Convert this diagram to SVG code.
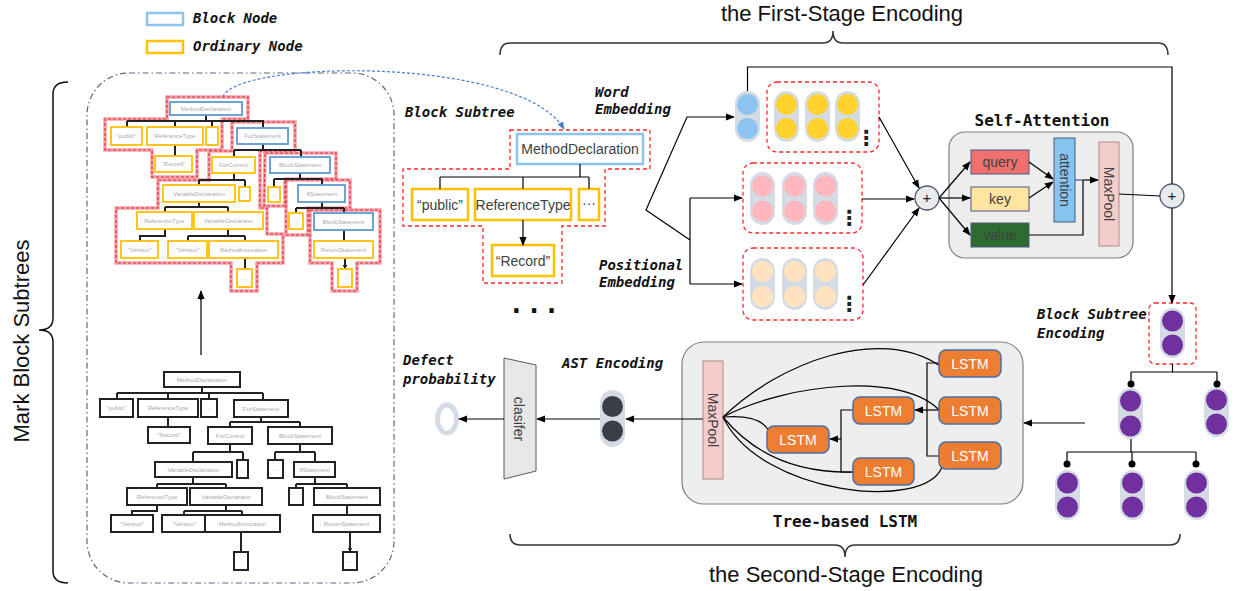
<svg xmlns="http://www.w3.org/2000/svg" width="1237" height="591" viewBox="0 0 1237 591">
<defs>
<style>
.lbl{font-family:"DejaVu Sans Mono",monospace;font-weight:bold;font-style:italic;font-size:14px;fill:#111}
.ttl{font-family:"DejaVu Sans Mono",monospace;font-weight:bold;font-size:16px;fill:#111}
.big{font-family:"Liberation Sans",Arial,sans-serif;font-size:22px;fill:#111}
.sans{font-family:"Liberation Sans",Arial,sans-serif}
.tt{font-family:"Liberation Sans",Arial,sans-serif;font-size:6px;fill:#aaa;text-anchor:middle}
.bS{fill:#fff;stroke:#5f9ad6;stroke-width:1.8}
.oS{fill:#fff;stroke:#ffc000;stroke-width:1.8}
.kS{fill:#fff;stroke:#222;stroke-width:2}
.red2{fill:none;stroke:#f5a3ab;stroke-width:3.5}
.red1{fill:none;stroke:#e3303f;stroke-width:1.2;stroke-dasharray:3 2}
.edge{fill:none;stroke:#222;stroke-width:2}
.ln{fill:none;stroke:#000;stroke-width:1.2}
.pill{fill:#d5dbe4}
.dbox{fill:none;stroke:#ff2a2a;stroke-width:1.3;stroke-dasharray:4 3}
.plus{fill:#ebebeb;stroke:#4e5d78;stroke-width:1.3}
.lstm{fill:#ed7d31;stroke:#4a6fa5;stroke-width:1.5}
.lt{font-family:"Liberation Sans",Arial,sans-serif;font-size:14px;fill:#fff;text-anchor:middle}
.nt{font-family:"Liberation Sans",Arial,sans-serif;font-size:14px;fill:#404040;text-anchor:middle}
.vd{font-family:"DejaVu Sans",sans-serif;font-weight:bold;font-size:21px;fill:#222;text-anchor:middle}
</style>
<marker id="a" viewBox="0 0 10 10" refX="9" refY="5" markerWidth="9" markerHeight="9" markerUnits="userSpaceOnUse" orient="auto"><path d="M0,1 L10,5 L0,9 z" fill="#000"/></marker>
<marker id="at" viewBox="0 0 10 10" refX="9" refY="5" markerWidth="5" markerHeight="5" markerUnits="userSpaceOnUse" orient="auto"><path d="M0,0 L10,5 L0,10 z" fill="#222"/></marker>
<marker id="ab" viewBox="0 0 10 10" refX="9" refY="5" markerWidth="8" markerHeight="8" markerUnits="userSpaceOnUse" orient="auto"><path d="M0,1 L10,5 L0,9 z" fill="#4a7fd0"/></marker>
</defs>
<rect width="1237" height="591" fill="#fff"/>

<g id="legend">
<rect x="147" y="13" width="36" height="12" fill="#fff" stroke="#8cc4f0" stroke-width="2.5"/>
<text class="lbl" x="193" y="23">Block Node</text>
<rect x="147" y="41" width="36" height="12" fill="#fff" stroke="#ffc000" stroke-width="2.5"/>
<text class="lbl" x="193" y="51">Ordinary Node</text>
</g>

<g id="mark-block-subtrees">
<path d="M68,82 Q53,82 53,94 L53,318 Q53,330 39,330 Q53,330 53,342 L53,571 Q53,583 68,583" fill="none" stroke="#111" stroke-width="1.5"/>
<text class="big" transform="translate(29,341) rotate(-90)" text-anchor="middle">Mark Block Subtrees</text>
</g>

<g id="left-panel">
<rect x="87" y="73" width="307" height="510" rx="42" fill="none" stroke="#5a6a85" stroke-width="1.2" stroke-dasharray="6 3 1.5 3"/>
</g>

<g id="marked-tree">
<g id="marks">
<polygon class="red2" points="167,97 248,97 248,119 222,119 222,150 197,150 197,177 152,177 152,150 105,150 105,119 167,119"/>
<polygon class="red2" points="232,122 295,122 295,151 260,151 260,208 267,208 267,234 283,234 283,263 257,263 257,291 231,291 231,263 116,263 116,208 158,208 158,180 209,180 209,151 232,151"/>
<polygon class="red2" points="265,153 336,153 336,179 285,179 285,206 264,206"/>
<polygon class="red2" points="286,180 350,180 350,208 308,208 308,235 286,235"/>
<polygon class="red2" points="310,210 380,210 380,263 357,263 357,291 332,291 332,263 310,263"/>
<polygon class="red1" points="167,97 248,97 248,119 222,119 222,150 197,150 197,177 152,177 152,150 105,150 105,119 167,119"/>
<polygon class="red1" points="232,122 295,122 295,151 260,151 260,208 267,208 267,234 283,234 283,263 257,263 257,291 231,291 231,263 116,263 116,208 158,208 158,180 209,180 209,151 232,151"/>
<polygon class="red1" points="265,153 336,153 336,179 285,179 285,206 264,206"/>
<polygon class="red1" points="286,180 350,180 350,208 308,208 308,235 286,235"/>
<polygon class="red1" points="310,210 380,210 380,263 357,263 357,291 332,291 332,263 310,263"/>
</g>
<g id="top-tree-edges">
<path class="edge" d="M206,115V121M127,121H264M175,145V150M263,144V150M234,150H301M234,173V180M199,180H245M300,173V179M274,179H322M199,202V207M165,207H228M322,202V208M296,208H344M228,229V236M188,236H245"/>
<path class="edge" marker-end="url(#at)" d="M127,121V127M175,121V127M212,121V127M263,121V128M175,150V156M234,150V157M301,150V157M199,180V185M245,180V187M274,179V187M322,179V185M165,207V212M228,207V212M296,208V213M344,208V213M165,229V236H140V241M188,236V241M245,236V241M344,230V241M245,258V269M345,258V269"/>
</g>
<g id="t-md"><rect class="bS" x="170" y="102" width="72" height="13"/><text class="tt" x="206" y="110.5">MethodDeclaration</text></g>
<g id="t-pub"><rect class="oS" x="111" y="127" width="31" height="18"/><text class="tt" x="126.5" y="138">"public"</text></g>
<g id="t-rt"><rect class="oS" x="147" y="127" width="56" height="18"/><text class="tt" x="175" y="138">ReferenceType</text></g>
<g id="t-d1"><rect class="oS" x="206" y="127" width="12" height="18"/><text class="tt" x="212" y="138">...</text></g>
<g id="t-fs"><rect class="bS" x="237" y="128" width="51" height="16"/><text class="tt" x="262.5" y="138">ForStatement</text></g>
<g id="t-rec"><rect class="oS" x="155" y="156" width="37" height="16"/><text class="tt" x="173.5" y="166">"Record"</text></g>
<g id="t-fc"><rect class="oS" x="212" y="157" width="43" height="16"/><text class="tt" x="233.5" y="167">ForControl</text></g>
<g id="t-bs1"><rect class="bS" x="270" y="157" width="60" height="16"/><text class="tt" x="300" y="167">BlockStatement</text></g>
<g id="t-vd"><rect class="oS" x="163" y="185" width="72" height="17"/><text class="tt" x="199" y="195.5">VariableDeclaration</text></g>
<g id="t-d2"><rect class="oS" x="239" y="187" width="11" height="14"/><text class="tt" x="244.5" y="196">...</text></g>
<g id="t-d3"><rect class="oS" x="268" y="187" width="12" height="15"/><text class="tt" x="274" y="196.5">...</text></g>
<g id="t-if"><rect class="bS" x="298" y="185" width="47" height="17"/><text class="tt" x="321.5" y="195.5">IfStatement</text></g>
<g id="t-rt2"><rect class="oS" x="137" y="212" width="55" height="17"/><text class="tt" x="164.5" y="222.5">ReferenceType</text></g>
<g id="t-vdr"><rect class="oS" x="194" y="212" width="69" height="17"/><text class="tt" x="228.5" y="222.5">VariableDeclarator</text></g>
<g id="t-d4"><rect class="oS" x="289" y="213" width="14" height="16"/><text class="tt" x="296" y="223">...</text></g>
<g id="t-bs2"><rect class="bS" x="314" y="213" width="59" height="17"/><text class="tt" x="343.5" y="223.5">BlockStatement</text></g>
<g id="t-v1"><rect class="oS" x="121" y="241" width="37" height="17"/><text class="tt" x="139.5" y="251.5">"Version"</text></g>
<g id="t-v2"><rect class="oS" x="168" y="241" width="39" height="17"/><text class="tt" x="187.5" y="251.5">"Version"</text></g>
<g id="t-mi"><rect class="oS" x="209" y="241" width="69" height="17"/><text class="tt" x="243.5" y="251.5">MethodInvocation</text></g>
<g id="t-rs"><rect class="oS" x="314" y="241" width="59" height="17"/><text class="tt" x="343.5" y="251.5">ReturnStatement</text></g>
<g id="t-d5"><rect class="oS" x="237" y="269" width="15" height="18"/><text class="tt" x="244.5" y="280">...</text></g>
<g id="t-d6"><rect class="oS" x="338" y="269" width="14" height="18"/><text class="tt" x="345" y="280">...</text></g>
</g>

<g id="plain-tree">
<g id="plain-tree-edges">
<path class="edge" d="M202,387V393M117,393H263M261,417V422M230,422H300M230,444V452M193,452H243M300,444V452M275,452H315M193,477V484M157,484H226M315,477V484M296,484H347M226,505V511M184,511H242"/>
<path class="edge" marker-end="url(#at)" d="M117,393V399M168,393V399M209,393V399M263,393V400M168,417V427M230,422V427M300,422V427M193,452V462M243,452V460M275,452V460M315,452V462M157,484V488M226,484V488M296,484V488M347,484V488M157,505V511H132V515M184,511V515M242,511V515M347,505V515M241,532V552M350,532V552"/>
</g>
<g id="b-md"><rect class="kS" x="164" y="372" width="76" height="15"/><text class="tt" x="202" y="381.5">MethodDeclaration</text></g>
<g id="b-pub"><rect class="kS" x="100" y="399" width="33" height="18"/><text class="tt" x="116.5" y="410">"public"</text></g>
<g id="b-rt"><rect class="kS" x="138" y="399" width="60" height="18"/><text class="tt" x="168" y="410">ReferenceType</text></g>
<g id="b-d1"><rect class="kS" x="201" y="399" width="16" height="18"/><text class="tt" x="209" y="410">...</text></g>
<g id="b-fs"><rect class="kS" x="234" y="400" width="54" height="17"/><text class="tt" x="261" y="410.5">ForStatement</text></g>
<g id="b-rec"><rect class="kS" x="148" y="427" width="42" height="16"/><text class="tt" x="169" y="437">"Record"</text></g>
<g id="b-fc"><rect class="kS" x="208" y="427" width="44" height="17"/><text class="tt" x="230" y="437.5">ForControl</text></g>
<g id="b-bs"><rect class="kS" x="268" y="427" width="64" height="17"/><text class="tt" x="300" y="437.5">BlockStatement</text></g>
<g id="b-vd"><rect class="kS" x="155" y="462" width="77" height="15"/><text class="tt" x="193.5" y="471.5">VariableDeclaration</text></g>
<g id="b-d2"><rect class="kS" x="237" y="460" width="11" height="18"/><text class="tt" x="242.5" y="471">...</text></g>
<g id="b-d3"><rect class="kS" x="268" y="460" width="15" height="18"/><text class="tt" x="275.5" y="471">...</text></g>
<g id="b-if"><rect class="kS" x="294" y="462" width="41" height="15"/><text class="tt" x="314.5" y="471.5">IfStatement</text></g>
<g id="b-rt2"><rect class="kS" x="127" y="488" width="60" height="17"/><text class="tt" x="157" y="498.5">ReferenceType</text></g>
<g id="b-vdr"><rect class="kS" x="190" y="488" width="72" height="17"/><text class="tt" x="226" y="498.5">VariableDeclarator</text></g>
<g id="b-d4"><rect class="kS" x="289" y="488" width="14" height="17"/><text class="tt" x="296" y="498.5">...</text></g>
<g id="b-bs2"><rect class="kS" x="314" y="488" width="66" height="17"/><text class="tt" x="347" y="498.5">BlockStatement</text></g>
<g id="b-v1"><rect class="kS" x="111" y="515" width="42" height="17"/><text class="tt" x="132" y="525.5">"Version"</text></g>
<g id="b-v2"><rect class="kS" x="162" y="515" width="45" height="17"/><text class="tt" x="184.5" y="525.5">"Version"</text></g>
<g id="b-mi"><rect class="kS" x="205" y="515" width="75" height="17"/><text class="tt" x="242.5" y="525.5">MethodInvocation</text></g>
<g id="b-rs"><rect class="kS" x="313" y="515" width="67" height="17"/><text class="tt" x="346.5" y="525.5">ReturnStatement</text></g>
<g id="b-d5"><rect class="kS" x="234" y="552" width="14" height="18"/><text class="tt" x="241" y="563">...</text></g>
<g id="b-d6"><rect class="kS" x="343" y="552" width="14" height="18"/><text class="tt" x="350" y="563">...</text></g>
</g>

<g id="block-subtree">
<text class="lbl" x="405" y="117">Block Subtree</text>
<polygon class="dbox" points="510,130 650,130 650,169 605,169 605,226 562,226 562,283 483,283 483,226 403,226 403,169 510,169"/>
<g id="bs-md"><rect x="517" y="134" width="126" height="30" fill="#fff" stroke="#8cc4f0" stroke-width="2.5"/><text class="nt" x="580" y="154">MethodDeclaration</text></g>
<g id="bs-pub"><rect x="412" y="189" width="56" height="31" fill="#fff" stroke="#ffc000" stroke-width="2.5"/><text class="nt" x="440" y="210">“public”</text></g>
<g id="bs-rt"><rect x="475" y="189" width="96" height="31" fill="#fff" stroke="#ffc000" stroke-width="2.5"/><text class="nt" x="523" y="210">ReferenceType</text></g>
<g id="bs-dots"><rect x="579" y="189" width="20" height="31" fill="#fff" stroke="#ffc000" stroke-width="2.5"/><text class="nt" x="589" y="208">···</text></g>
<g id="bs-rec"><rect x="492" y="245" width="62" height="31" fill="#fff" stroke="#ffc000" stroke-width="2.5"/><text class="nt" x="523" y="266">“Record”</text></g>
<text x="535" y="313" text-anchor="middle" font-family="DejaVu Sans Mono,monospace" font-weight="bold" font-size="26" fill="#111" letter-spacing="2">...</text>
</g>

<g id="labels">
<text class="lbl" x="595" y="97">Word</text>
<text class="lbl" x="595" y="114">Embedding</text>
<text class="lbl" x="599" y="270">Positional</text>
<text class="lbl" x="599" y="287">Embedding</text>
<text class="lbl" x="1037" y="319">Block Subtree</text>
<text class="lbl" x="1037" y="338">Encoding</text>
<text class="lbl" x="562" y="368">AST Encoding</text>
<text class="lbl" x="403" y="365">Defect</text>
<text class="lbl" x="403" y="384">probability</text>
</g>

<g id="first-stage">
<text class="big" x="842" y="21" text-anchor="middle">the First-Stage Encoding</text>
<path d="M500,55 Q500,43 510,43 L823,43 Q833,43 833,31 Q833,43 843,43 L1158,43 Q1168,43 1168,55" fill="none" stroke="#333" stroke-width="1.5"/>
</g>
<g id="second-stage">
<path d="M510,534 Q510,545 520,545 L835,545 Q845,545 845,557 Q845,545 855,545 L1170,545 Q1180,545 1180,534" fill="none" stroke="#333" stroke-width="1.5"/>
<text class="big" x="846" y="582" text-anchor="middle">the Second-Stage Encoding</text>
</g>

<g id="block-node-embedding">
<rect class="pill" x="735" y="91" width="25" height="51" rx="12.5"/>
<circle cx="747.5" cy="104.5" r="10.5" fill="#8bc4f1"/><circle cx="747.5" cy="128.5" r="10.5" fill="#8bc4f1"/>
</g>
<g id="word-embedding">
<rect class="dbox" x="767" y="82" width="112" height="70" rx="10"/>
<rect class="pill" x="774" y="91" width="25" height="51" rx="12.5"/><circle cx="786.5" cy="104.5" r="10.5" fill="#ffd22e"/><circle cx="786.5" cy="128.5" r="10.5" fill="#ffd22e"/>
<rect class="pill" x="805" y="91" width="25" height="51" rx="12.5"/><circle cx="817.5" cy="104.5" r="10.5" fill="#ffd22e"/><circle cx="817.5" cy="128.5" r="10.5" fill="#ffd22e"/>
<rect class="pill" x="835" y="91" width="25" height="51" rx="12.5"/><circle cx="847.5" cy="104.5" r="10.5" fill="#ffd22e"/><circle cx="847.5" cy="128.5" r="10.5" fill="#ffd22e"/>
<text class="vd" x="866" y="145">⋮</text>
</g>
<g id="pink-embedding">
<rect class="dbox" x="743" y="163" width="119" height="70" rx="10"/>
<rect class="pill" x="750" y="172" width="25" height="53" rx="12.5"/><circle cx="762.5" cy="186" r="10.5" fill="#ffb6bd"/><circle cx="762.5" cy="211" r="10.5" fill="#ffb6bd"/>
<rect class="pill" x="782" y="172" width="25" height="53" rx="12.5"/><circle cx="794.5" cy="186" r="10.5" fill="#ffb6bd"/><circle cx="794.5" cy="211" r="10.5" fill="#ffb6bd"/>
<rect class="pill" x="813" y="172" width="25" height="53" rx="12.5"/><circle cx="825.5" cy="186" r="10.5" fill="#ffb6bd"/><circle cx="825.5" cy="211" r="10.5" fill="#ffb6bd"/>
<text class="vd" x="849" y="225">⋮</text>
</g>
<g id="positional-embedding">
<rect class="dbox" x="743" y="248" width="120" height="72" rx="10"/>
<rect class="pill" x="750" y="258" width="25" height="52" rx="12.5"/><circle cx="762.5" cy="271.5" r="10.5" fill="#ffe3bf"/><circle cx="762.5" cy="296.5" r="10.5" fill="#ffe3bf"/>
<rect class="pill" x="782" y="258" width="25" height="52" rx="12.5"/><circle cx="794.5" cy="271.5" r="10.5" fill="#ffe3bf"/><circle cx="794.5" cy="296.5" r="10.5" fill="#ffe3bf"/>
<rect class="pill" x="813" y="258" width="25" height="52" rx="12.5"/><circle cx="825.5" cy="271.5" r="10.5" fill="#ffe3bf"/><circle cx="825.5" cy="296.5" r="10.5" fill="#ffe3bf"/>
<text class="vd" x="849" y="311">⋮</text>
</g>
<g id="plus1"><circle class="plus" cx="927" cy="198" r="12"/><text class="sans" x="927" y="203" text-anchor="middle" font-size="15" fill="#222">+</text></g>

<g id="self-attention">
<text class="ttl" x="1042" y="126" text-anchor="middle">Self-Attention</text>
<rect x="949" y="132" width="184" height="126" rx="16" fill="#ededed" stroke="#7f7f7f" stroke-width="1.2"/>
<g id="query"><rect x="971" y="150" width="58" height="24" fill="#f07070" stroke="#4a5a80" stroke-width="1"/><text class="nt" x="1000" y="167" font-size="15" fill="#222">query</text></g>
<g id="key"><rect x="971" y="187" width="58" height="24" fill="#ffe5a0" stroke="#4a5a80" stroke-width="1"/><text class="nt" x="1000" y="204" font-size="15" fill="#222">key</text></g>
<g id="value"><rect x="971" y="223" width="58" height="24" fill="#2e6b30" stroke="#4a5a80" stroke-width="1"/><text class="nt" x="1000" y="240" font-size="15" fill="#111">value</text></g>
<g id="attention"><rect x="1054" y="138" width="21" height="84" fill="#88c4f0" stroke="#4a5a80" stroke-width="1"/><text class="nt" font-size="15" fill="#222" transform="translate(1059.5,180) rotate(90)">attention</text></g>
<g id="maxpool1"><rect x="1099" y="142" width="20" height="104" fill="#f4cccc" stroke="#b08a8a" stroke-width="1"/><text class="nt" font-size="15" fill="#222" transform="translate(1104,194) rotate(90)">MaxPool</text></g>
</g>
<g id="plus2"><circle class="plus" cx="1172" cy="196" r="12"/><text class="sans" x="1172" y="201" text-anchor="middle" font-size="15" fill="#222">+</text></g>

<g id="tree-lstm">
<rect x="682" y="342" width="341" height="162" rx="22" fill="#eeeeee" stroke="#7f7f7f" stroke-width="1.2"/>
<text class="ttl" x="845" y="527" text-anchor="middle">Tree-based LSTM</text>
<g id="maxpool2"><rect x="703" y="361" width="20" height="118" fill="#f4cccc" stroke="#b08a8a" stroke-width="1"/><text class="nt" font-size="15" fill="#222" transform="translate(708,420) rotate(90)">MaxPool</text></g>
<g id="lstm-curves">
<path class="ln" stroke-width="1" d="M723,417 C780,362 880,325 940,366"/>
<path class="ln" stroke-width="1" d="M723,417 C790,382 905,372 940,411"/>
<path class="ln" stroke-width="1" d="M723,417 Q760,414 769,431"/>
<path class="ln" stroke-width="1" d="M723,417 C760,462 810,473 853,472"/>
<path class="ln" stroke-width="1" d="M723,417 C760,495 925,512 942,467"/>
<path class="ln" stroke-width="1" d="M939,363H927V456H939M853,410H841V472H853"/>
<path class="ln" stroke-width="1" marker-end="url(#a)" d="M939,410H915"/>
<path class="ln" stroke-width="1" marker-end="url(#a)" d="M841,439H830"/>
</g>
<g id="lstm-l1"><rect class="lstm" x="939" y="350" width="62" height="27" rx="7"/><text class="lt" x="970" y="368.5">LSTM</text></g>
<g id="lstm-l2"><rect class="lstm" x="939" y="397" width="62" height="27" rx="7"/><text class="lt" x="970" y="415.5">LSTM</text></g>
<g id="lstm-l3"><rect class="lstm" x="939" y="442" width="62" height="27" rx="7"/><text class="lt" x="970" y="460.5">LSTM</text></g>
<g id="lstm-m1"><rect class="lstm" x="853" y="397" width="61" height="27" rx="7"/><text class="lt" x="883.5" y="415.5">LSTM</text></g>
<g id="lstm-m2"><rect class="lstm" x="853" y="458" width="61" height="27" rx="7"/><text class="lt" x="883.5" y="476.5">LSTM</text></g>
<g id="lstm-root"><rect class="lstm" x="767" y="426" width="62" height="27" rx="7"/><text class="lt" x="798" y="444.5">LSTM</text></g>
</g>

<g id="ast-encoding">
<rect class="pill" x="600" y="390" width="25" height="57" rx="12.5"/>
<circle cx="612.5" cy="406.5" r="10.5" fill="#3a3e48"/><circle cx="612.5" cy="431" r="10.5" fill="#3a3e48"/>
</g>
<g id="classifier">
<polygon points="504,358 536,365 536,471 504,479" fill="#e7e7e7" stroke="#595959" stroke-width="1"/>
<text class="nt" font-size="19" fill="#333" transform="translate(514,419) rotate(90)">clasifer</text>
</g>
<g id="defect-output">
<ellipse cx="447" cy="419" rx="9.5" ry="14" fill="#fff" stroke="#d5dbe4" stroke-width="5"/>
</g>

<g id="bse-root">
<rect class="dbox" x="1149" y="303" width="47" height="61" rx="6"/>
<rect class="pill" x="1160" y="308" width="25" height="50" rx="12.5"/>
<circle cx="1172.5" cy="321" r="10.5" fill="#7030a0"/><circle cx="1172.5" cy="345" r="10.5" fill="#7030a0"/>
</g>
<g id="bse-a"><rect class="pill" x="1118" y="388" width="25" height="51" rx="12.5"/><circle cx="1130.5" cy="401" r="10.5" fill="#7030a0"/><circle cx="1130.5" cy="426" r="10.5" fill="#7030a0"/></g>
<g id="bse-b"><rect class="pill" x="1204" y="387" width="25" height="50" rx="12.5"/><circle cx="1216.5" cy="400" r="10.5" fill="#7030a0"/><circle cx="1216.5" cy="424" r="10.5" fill="#7030a0"/></g>
<g id="bse-c"><rect class="pill" x="1055" y="470" width="25" height="50" rx="12.5"/><circle cx="1067.5" cy="483" r="10.5" fill="#7030a0"/><circle cx="1067.5" cy="507" r="10.5" fill="#7030a0"/></g>
<g id="bse-d"><rect class="pill" x="1120" y="470" width="25" height="50" rx="12.5"/><circle cx="1132.5" cy="483" r="10.5" fill="#7030a0"/><circle cx="1132.5" cy="507" r="10.5" fill="#7030a0"/></g>
<g id="bse-e"><rect class="pill" x="1184" y="470" width="25" height="50" rx="12.5"/><circle cx="1196.5" cy="483" r="10.5" fill="#7030a0"/><circle cx="1196.5" cy="507" r="10.5" fill="#7030a0"/></g>

<g id="connectors">
<path d="M223,97 C235,60 520,55 564,129" fill="none" stroke="#4a7fd0" stroke-width="1.2" stroke-dasharray="3 2" marker-end="url(#ab)"/>
<path class="ln" d="M580,164V177M440,177H589"/>
<path class="ln" marker-end="url(#a)" d="M440,177V189M523,177V189M589,177V189M523,220V245"/>
<path class="ln" marker-end="url(#a)" d="M690,240L646,210L687,117H734"/>
<path class="ln" d="M690,198V284"/>
<path class="ln" marker-end="url(#a)" d="M690,198H742"/>
<path class="ln" marker-end="url(#a)" d="M690,284H742"/>
<path class="ln" marker-end="url(#a)" d="M879,117L919,188"/>
<path class="ln" marker-end="url(#a)" d="M862,199H914"/>
<path class="ln" marker-end="url(#a)" d="M863,285L919,208"/>
<path class="ln" d="M747.5,91V67H1172V184"/>
<path class="ln" marker-end="url(#a)" d="M939,198L970,162"/>
<path class="ln" marker-end="url(#a)" d="M939,198H970"/>
<path class="ln" marker-end="url(#a)" d="M939,198L970,235"/>
<path class="ln" marker-end="url(#a)" d="M1029,162L1053,179"/>
<path class="ln" marker-end="url(#a)" d="M1029,198L1053,182"/>
<path class="ln" d="M1029,235H1083V180"/>
<path d="M1075,180H1083" stroke="#2f55a4" stroke-width="1.2"/>
<path class="ln" marker-end="url(#a)" d="M1083,180H1098"/>
<path class="ln" d="M1119,194L1160,196"/>
<path class="ln" marker-end="url(#a)" d="M1172,208V303"/>
<path class="ln" d="M1172.5,364V372M1131,372H1217M1131,372V384M1217,372V384M1131,439V452M1067,452H1196M1067,452V464M1132,452V464M1196,452V464"/>
<circle cx="1131" cy="384" r="3.5" fill="#000"/><circle cx="1217" cy="384" r="3.5" fill="#000"/>
<circle cx="1067" cy="464" r="3.5" fill="#000"/><circle cx="1132" cy="464" r="3.5" fill="#000"/><circle cx="1196" cy="464" r="3.5" fill="#000"/>
<path class="ln" marker-end="url(#a)" d="M1085,423H1024"/>
<path class="ln" marker-end="url(#a)" d="M703,419H626"/>
<path class="ln" marker-end="url(#a)" d="M600,419H537"/>
<path class="ln" marker-end="url(#a)" d="M504,419H459"/>
<path class="ln" d="M201,355V298"/>
<path class="ln" marker-end="url(#a)" d="M201,300V291"/>
</g>
</svg>
